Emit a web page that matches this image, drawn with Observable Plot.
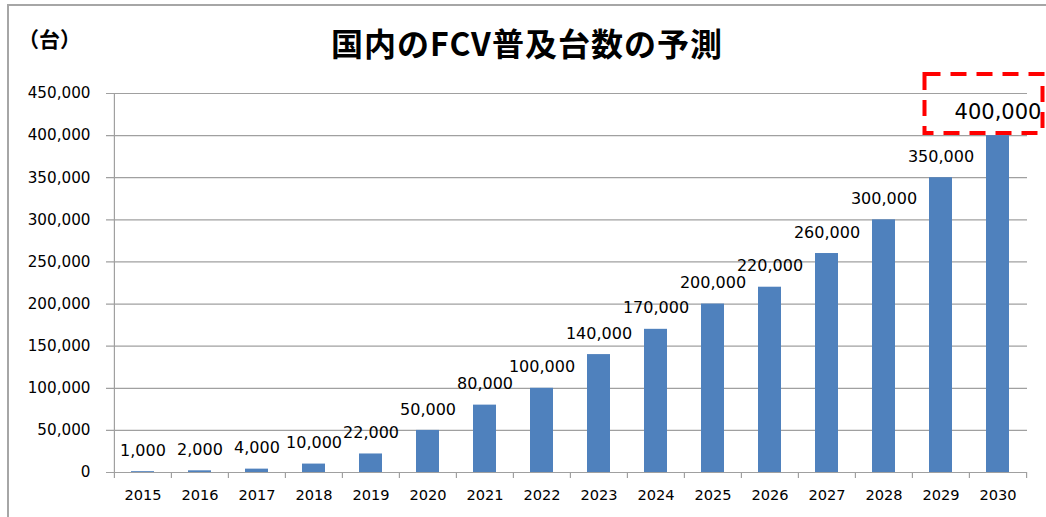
<!DOCTYPE html>
<html>
<head>
<meta charset="utf-8">
<script src="https://cdn.jsdelivr.net/npm/d3@7"></script>
<script src="https://cdn.jsdelivr.net/npm/@observablehq/plot@0.6"></script>
<style>
  html, body { margin: 0; padding: 0; background: #fff; }
  #wrap { position: relative; width: 1046px; height: 517px; overflow: hidden; background: #fff; }
  #frame { position: absolute; left: 7px; top: 4px; width: 1100px; height: 600px;
           border-top: 2px solid #a6a6a6; border-left: 2px solid #a6a6a6; box-sizing: border-box; }
  #title { position: absolute; left: 0; width: 1054px; top: 20px; text-align: center;
           font-family: "Noto Sans CJK JP", sans-serif; font-weight: 700; font-size: 32px;
           letter-spacing: 1px; line-height: 44px; color: #000; }
  #unit { position: absolute; left: 18px; top: 23px; font-family: "Noto Sans CJK JP", sans-serif;
          font-weight: 700; font-size: 21px; line-height: 30px; color: #000; }
  #chart { position: absolute; left: 0; top: 0; }
</style>
</head>
<body>
<div id="wrap">
  <div id="frame"></div>
  <div id="chart"></div>
  <div id="title">国内のFCV普及台数の予測</div>
  <div id="unit">（台）</div>
</div>
<script>
const years = ["2015","2016","2017","2018","2019","2020","2021","2022","2023","2024","2025","2026","2027","2028","2029","2030"];
const values = [1000,2000,4000,10000,22000,50000,80000,100000,140000,170000,200000,220000,260000,300000,350000,400000];
const yTicks = [0,50000,100000,150000,200000,250000,300000,350000,400000,450000];
const highlightYear = "2030";

const data = years.map((year, i) => ({year, value: values[i]}));
const fmt = d3.format(",");

const W = 1046, H = 517, mL = 112, mR = 19, mT = 93, mB = 45;
const step = (W - mL - mR) / years.length;
const grey = "#a0a0a0";
const font = "DejaVu Sans";

const plot = Plot.plot({
  width: W, height: H,
  marginLeft: mL, marginRight: mR, marginTop: mT, marginBottom: mB,
  style: {fontFamily: font, background: "transparent", color: "#000"},
  x: {domain: years, paddingInner: 0.6, paddingOuter: 0.3, label: null},
  y: {domain: [0, 450000], label: null},
  marks: [
    Plot.ruleY(yTicks, {stroke: grey, strokeWidth: 1.2, insetLeft: -6}),
    Plot.ruleX([years[0]], {dx: -step / 2, y1: 0, y2: 450000, stroke: grey, strokeWidth: 1.2}),
    Plot.ruleX(years, {x: d => d, dx: -step / 2, y1: 0, y2: 0, insetBottom: -6, stroke: grey, strokeWidth: 1.2}),
    Plot.ruleX([years[years.length - 1]], {x: d => d, dx: step / 2, y1: 0, y2: 0, insetBottom: -6, stroke: grey, strokeWidth: 1.2}),
    Plot.barY(data, {x: "year", y: "value", fill: "#4F81BD"}),
    Plot.text(data.filter(d => d.year !== highlightYear), {
      x: "year", y: "value", text: d => fmt(d.value), dy: -21, fontSize: 16, fill: "#000"
    }),
    Plot.text(data.filter(d => d.year === highlightYear), {
      x: "year", y: "value", text: d => fmt(d.value), dy: -23, fontSize: 21, fill: "#000"
    }),
    Plot.axisY({ticks: yTicks, tickFormat: d => fmt(d), tickSize: 0, tickPadding: 22, fontSize: 15.2, label: null}),
    Plot.axisX({tickSize: 0, tickPadding: 17, fontSize: 14.6, label: null})
  ]
});

document.getElementById("chart").appendChild(plot);

// red dashed highlight box around the 2030 value label
const xs = plot.scale("x"), ys = plot.scale("y");
const xc = xs.apply(highlightYear) + xs.bandwidth / 2;
const yv = ys.apply(values[years.indexOf(highlightYear)]);
d3.select(plot).append("rect")
  .attr("x", xc - 73).attr("y", yv - 61)
  .attr("width", 118).attr("height", 59)
  .attr("fill", "none").attr("stroke", "#ff0000")
  .attr("stroke-width", 4).attr("stroke-dasharray", "16,10");
</script>
</body>
</html>
